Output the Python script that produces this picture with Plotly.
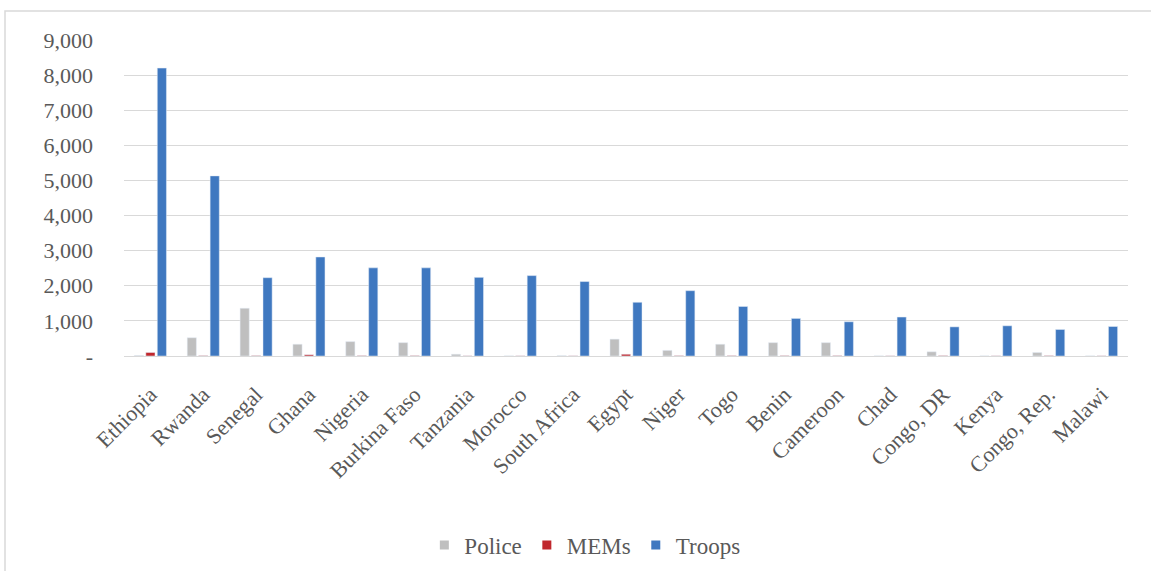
import plotly.graph_objects as go

countries = ["Ethiopia", "Rwanda", "Senegal", "Ghana", "Nigeria", "Burkina Faso",
             "Tanzania", "Morocco", "South Africa", "Egypt", "Niger", "Togo", "Benin",
             "Cameroon", "Chad", "Congo, DR", "Kenya", "Congo, Rep.", "Malawi"]
police = [15, 520, 1360, 335, 410, 380, 50, 5, 10, 480, 160, 335, 380, 380, 5, 120, 5, 100, 5]
mems = [100, 10, 10, 35, 10, 10, 5, 5, 5, 50, 10, 10, 10, 10, 5, 10, 5, 10, 5]
troops = [8200, 5130, 2230, 2820, 2510, 2510, 2240, 2290, 2120, 1530, 1860, 1410,
          1070, 975, 1110, 830, 860, 755, 840]

tick_vals = [0, 1000, 2000, 3000, 4000, 5000, 6000, 7000, 8000, 9000]
tick_text = ["-", "1,000", "2,000", "3,000", "4,000", "5,000", "6,000", "7,000", "8,000", "9,000"]

series = [("Police", police, "#BFBFBF"), ("MEMs", mems, "#C0272D"), ("Troops", troops, "#3F78C0")]

font_family = "Liberation Serif, Times New Roman, serif"
text_color = "#595959"

fig = go.Figure()
for name, vals, color in series:
    fig.add_trace(go.Bar(name=name, x=countries, y=vals, marker_color=color,
                         showlegend=False, legendgroup=name))
# small square legend keys
for name, vals, color in series:
    fig.add_trace(go.Scatter(name=name, x=[None], y=[None], mode="markers",
                             marker=dict(symbol="square", size=9, color=color),
                             legendgroup=name, showlegend=True))

fig.update_layout(
    width=1151, height=571,
    margin=dict(l=124, r=23, t=40, b=215, autoexpand=False),
    barmode="group", bargap=0.35, bargroupgap=0.2,
    plot_bgcolor="white", paper_bgcolor="white",
    font=dict(family=font_family, color=text_color, size=21),
    showlegend=True,
    legend=dict(orientation="h", x=0.459, xanchor="center", y=-0.598, yanchor="middle",
                font=dict(size=23, color=text_color), itemwidth=30, traceorder="normal"),
    xaxis=dict(tickangle=-45, showgrid=False, showline=True, linecolor="#D9D9D9",
               ticks="", ticklabelstandoff=16, tickfont=dict(size=22), automargin=False),
    yaxis=dict(range=[0, 9000], tickvals=tick_vals, ticktext=tick_text,
               showgrid=True, gridcolor="#D9D9D9", gridwidth=1, zeroline=False,
               showline=False, ticks="", ticklabelstandoff=30, tickfont=dict(size=22),
               automargin=False),
    shapes=[dict(type="rect", xref="paper", yref="paper",
                 x0=(5 - 124) / 1004, x1=1.2, y0=-1.0, y1=(356 - 11) / 316,
                 line=dict(color="#D9D9D9", width=1.5), fillcolor="rgba(0,0,0,0)",
                 layer="below")],
)

fig.write_html("out.html")
